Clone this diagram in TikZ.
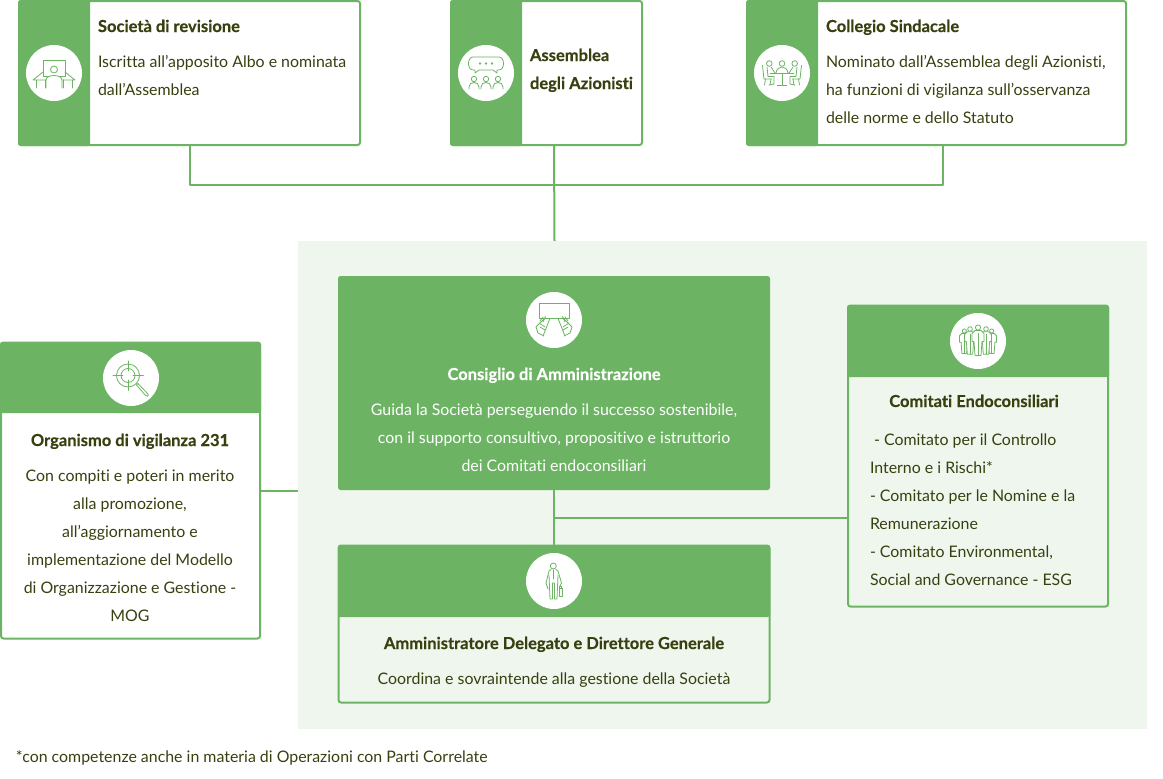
\documentclass[tikz,border=0pt]{standalone}
\usepackage{fontspec}
\setmainfont{Lato}[Ligatures=NoCommon,BoldFeatures={FakeBold=0.35}]
\usetikzlibrary{calc}
\definecolor{gr}{HTML}{6CB463}
\definecolor{pale}{HTML}{EFF6EE}
\definecolor{ink}{HTML}{38400F}
\tikzset{
  x=1pt,y=-1pt,
  every node/.style={inner sep=0pt,outer sep=0pt,text=ink,font=\fontsize{15.9}{28}\selectfont},
  box/.style={draw=gr,line width=2pt,rounded corners=2.5pt,anchor=north west},
  solid box/.style={fill=gr,rounded corners=2.5pt,anchor=north west},
  disc/.style={circle,fill=white,minimum size=56pt},
  link/.style={draw=gr,line width=2pt,line join=round},
  ttl/.style={font=\fontsize{16.5}{28}\selectfont\bfseries,align=left},
  txt/.style={align=left},
  ctr/.style={align=center},
  ic/.style={draw=gr,line width=.8pt,line cap=round,line join=round},
}
\begin{document}
\begin{tikzpicture}
\useasboundingbox (0,0) rectangle (1163,779);
% panel
\node[fill=pale,anchor=north west,minimum width=849pt,minimum height=488pt] (panel) at (298,241) {};
% top boxes
\node[box,fill=white,minimum width=341pt,minimum height=144pt] (b1) at (19,1) {};
\node[box,fill=white,minimum width=191pt,minimum height=144pt] (b2) at (451,1) {};
\node[box,fill=white,minimum width=379pt,minimum height=144pt] (b3) at (747,1) {};
\fill[gr,rounded corners=2.5pt] (90,0) -- (18,0) -- (18,146) -- (90,146) [sharp corners] -- cycle;
\fill[gr,rounded corners=2.5pt] (522,0) -- (450,0) -- (450,146) -- (522,146) [sharp corners] -- cycle;
\fill[gr,rounded corners=2.5pt] (818,0) -- (746,0) -- (746,146) -- (818,146) [sharp corners] -- cycle;
\node[disc] (d1) at (54,73) {};
\node[disc] (d2) at (486,73) {};
\node[disc] (d3) at (782,73) {};
% icon 1
\begin{scope}[shift={(54,73)}]
\draw[ic] (-11,-13) rectangle (11,3);
\draw[ic] (-11,-1) -- (-21,7) -- (-7,7) (11,-1) -- (21,7) -- (7,7);
\draw[ic] (-18,7)--(-18,15) (-9,7)--(-9,15) (18,7)--(18,15) (9,7)--(9,15);
\draw[ic,fill=white] (0,-3.5) circle (3.5);
\draw[ic,fill=white] (-8,15) -- (-8,7) .. controls (-8,1) and (8,1) .. (8,7) -- (8,15);
\end{scope}
% icon 2
\begin{scope}[shift={(486,73)}]
\draw[ic] (-13,-16) -- (13,-16) .. controls (19,-16) and (19,-3) .. (13,-3) -- (11,-3) -- (11,0) -- (7,-3) -- (-7,-3) -- (-11,0) -- (-11,-3) -- (-13,-3) .. controls (-19,-3) and (-19,-16) .. (-13,-16) -- cycle;
\foreach \x in {-6,0,6} \draw[ic] (\x,-9.5) circle (.9);
\foreach \x in {-12,0,12} {
  \draw[ic] (\x,6) circle (2.7);
  \draw[ic] (\x-5,16) -- (\x-5,14) .. controls (\x-5,8) and (\x+5,8) .. (\x+5,14) -- (\x+5,16);
}
\end{scope}
% icon 3
\begin{scope}[shift={(782,73)}]
\draw[ic] (0,-9.5) circle (2.8);
\draw[ic] (-6,0) .. controls (-5,-8) and (5,-8) .. (6,0);
\draw[ic] (-12,.7) -- (12,.7) (0,.7) -- (0,12) (-4.7,12) -- (4.7,12);
\foreach \s in {1,-1} {
\begin{scope}[xscale=\s]
\draw[ic] (-12.7,-9.5) circle (2.8);
\draw[ic] (-15,-6) -- (-14,3.5) -- (-8,3.5) -- (-8,11) -- (-13,12);
\draw[ic] (-11,-6) -- (-7,0) -- (-5,.7);
\draw[ic] (-19.5,-7.5) -- (-18,6) -- (-10.5,6);
\draw[ic] (-16.5,6) -- (-17.5,12) (-11,6) -- (-12,12);
\end{scope}}
\end{scope}
\node[ttl,anchor=base west] (t1) at (98,32) {Società di revisione};
\node[txt,anchor=base west] (s1) at (98,95) {Iscritta all’apposito Albo e nominata\\dall’Assemblea};
\node[ttl,anchor=base west] (t2) at (530,89) {Assemblea\\degli Azionisti};
\node[ttl,anchor=base west] (t3) at (826,32) {Collegio Sindacale};
\node[txt,anchor=base west] (s3) at (826,123) {Nominato dall’Assemblea degli Azionisti,\\ha funzioni di vigilanza sull’osservanza\\delle norme e dello Statuto};
% connectors
\coordinate (j1) at (b1.south);
\coordinate (j2) at (554,145);
\coordinate (j3) at (943,145);
\coordinate (j0) at (554.5,241);
\draw[link] (j1) -- +(0,40) -| (j3);
\draw[link] (j2) -- (j0);
% CdA
\node[solid box,minimum width=432pt,minimum height=214pt] (cda) at (338,276) {};
\node[disc] (d4) at (554,320) {};
\begin{scope}[shift={(554,320)}]
\draw[ic] (-15,-16.7) rectangle (15,-1.7);
\foreach \s in {1,-1} {
\begin{scope}[xscale=\s]
\draw[ic] (-4,-1.7) -- (-11,16);
\draw[ic] (-9,-2) -- (-18,7) -- (-16,13) -- (-10,16);
\draw[ic] (-11,-3) -- (-14,1) (-8.5,-3.5) -- (-11,2) (-15,3) -- (-9,7) (-14,7) -- (-9,10);
\end{scope}}
\end{scope}
\node[ttl,text=white,anchor=base] (t4) at (554,380) {Consiglio di Amministrazione};
\node[ctr,text=white,anchor=base] (s4) at (554,471) {Guida la Società perseguendo il successo sostenibile,\\con il supporto consultivo, propositivo e istruttorio\\dei Comitati endoconsiliari};
% AD
\node[box,fill=pale,minimum width=431pt,minimum height=157pt] (ad) at (338.5,545.5) {};
\fill[gr,rounded corners=2.5pt] (338,617) -- (338,545) -- (770,545) -- (770,617) [sharp corners] -- cycle;
\node[disc] (d5) at (554,581) {};
\begin{scope}[shift={(554,581)}]
\draw[ic] (-.7,-15) circle (3);
\draw[ic] (-3,-11.5) -- (-5,-10) -- (-8,2) -- (-6,8) (2,-11.5) -- (4,-10) -- (7.5,2) -- (5.5,6);
\draw[ic] (-5,-6) -- (-4,18) -- (-1.5,18) -- (-1.5,2) -- (.5,2) -- (.5,18) -- (3,18) -- (4,-6);
\draw[ic] (-.7,-11) -- (-.7,-2);
\draw[ic] (5,7.5) rectangle (8.5,15) (5.8,7.5) -- (5.8,5.5) -- (7.8,5.5) -- (7.8,7.5);
\end{scope}
\node[ttl,anchor=base] (t5) at (554,649) {Amministratore Delegato e Direttore Generale};
\node[ctr,anchor=base] (s5) at (554,684) {Coordina e sovraintende alla gestione della Società};
% Comitati
\node[box,fill=pale,minimum width=260pt,minimum height=301pt] (co) at (848,305.5) {};
\fill[gr,rounded corners=2.5pt] (847,377) -- (847,305) -- (1109,305) -- (1109,377) [sharp corners] -- cycle;
\node[disc] (d6) at (978,341) {};
\begin{scope}[shift={(978,341)}]
\foreach \x/\y/\s in {-13.7/-10/.8,13.7/-10/.8,-8/-12/.9,8/-12/.9,0/-13.5/1} {
\begin{scope}[shift={(\x,\y)},scale=\s]
\draw[ic,fill=white] (0,0) circle (2.6);
\draw[ic,fill=white] (-3,3) -- (-6,6) -- (-6,14) -- (-4,14) -- (-3,28) -- (3,28) -- (4,14) -- (6,14) -- (6,6) -- (3,3) -- cycle;
\draw[ic] (0,6) -- (0,28);
\end{scope}}
\end{scope}
\node[ttl,anchor=base] (t6) at (974,407) {Comitati Endoconsiliari};
\node[txt,anchor=base west] (s6) at (870,585) {\ - Comitato per il Controllo\\Interno e i Rischi*\\- Comitato per le Nomine e la\\Remunerazione\\- Comitato Environmental,\\Social and Governance - ESG};
% Organismo
\node[box,fill=white,minimum width=259pt,minimum height=296pt] (og) at (1,342.5) {};
\fill[gr,rounded corners=2.5pt] (0,413) -- (0,342) -- (261,342) -- (261,413) [sharp corners] -- cycle;
\node[disc] (d7) at (131,378) {};
\begin{scope}[shift={(131,378)}]
\draw[ic] (-3,-2.5) circle (11.5) (-3,-2.5) circle (7);
\draw[ic] (-3,-17) -- (-3,-7) (-3,2) -- (-3,12.5) (-18,-2.5) -- (-8,-2.5) (2,-2.5) -- (12.5,-2.5);
\draw[ic] (5.5,7) -- (7,5.5) -- (16.5,15.5) .. controls (18.5,18) and (16,19.5) .. (14.5,17.5) -- cycle;
\end{scope}
\node[ttl,anchor=base] (t7) at (130,446) {Organismo di vigilanza 231};
\node[ctr,anchor=base] (s7) at (130,621) {Con compiti e poteri in merito\\alla promozione,\\all’aggiornamento e\\implementazione del Modello\\di Organizzazione e Gestione -\\MOG};
% other connectors
\coordinate (j4) at (261,491);
\coordinate (j5) at (298,491);
\draw[link] (j4) -- (j5);
\draw[link] (cda.south) -- (ad.north);
\coordinate (j6) at (554,518);
\draw[link] (j6) -- (j6 -| co.west);
% footnote
\node[anchor=base west] (fn) at (16,762) {*con competenze anche in materia di Operazioni con Parti Correlate};
\end{tikzpicture}
\end{document}
